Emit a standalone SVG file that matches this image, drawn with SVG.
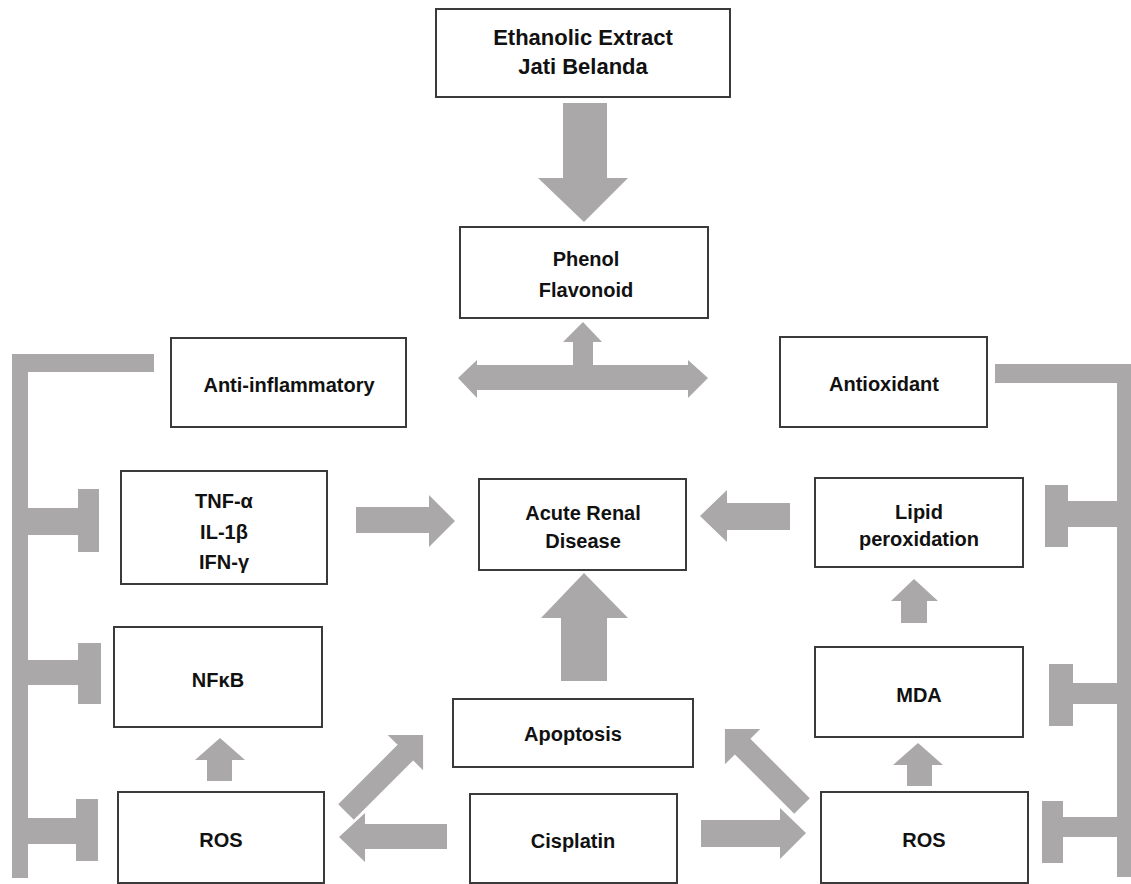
<svg xmlns="http://www.w3.org/2000/svg" width="1131" height="884" viewBox="0 0 1131 884">
<style>
.box{fill:#fff;stroke:#3a3a3a;stroke-width:2}
.arr{fill:#aaa8a8;stroke:none}
.t{font-family:"Liberation Sans",Arial,sans-serif;font-weight:bold;font-size:20px;fill:#111;text-anchor:middle}
.big{font-size:22px}
</style>
<rect width="1131" height="884" fill="#fff"/>
<g id="connectors">
  <!-- Extract -> Phenol -->
  <polygon class="arr" points="563,103 607,103 607,178 628,178 584,222 538,178 563,178"/>
  <!-- double horizontal arrow with up branch -->
  <polygon class="arr" points="458,378 477,360 477,365 573,365 573,342 563,342 583,322 602,342 593,342 593,365 688,365 688,360 708,378 688,398 688,390 477,390 477,398"/>
  <!-- TNF -> ARD -->
  <polygon class="arr" points="356,507 429,507 429,495 455,521 429,547 429,533 356,533"/>
  <!-- Lipid -> ARD -->
  <polygon class="arr" points="790,503 727,503 727,490 700,516 727,542 727,530 790,530"/>
  <!-- Apoptosis -> ARD -->
  <polygon class="arr" points="561,681 561,618 541,618 584,573 628,618 607,618 607,681"/>
  <!-- ROS L -> NFkB -->
  <polygon class="arr" points="207,781 207,760 195,760 220,738 245,760 232,760 232,781"/>
  <!-- Cisplatin -> ROS L -->
  <polygon class="arr" points="447,824 365,824 365,813 339,837 365,862 365,849 447,849"/>
  <!-- Cisplatin -> ROS R -->
  <polygon class="arr" points="701,820 780,820 780,808 806,833 780,859 780,847 701,847"/>
  <!-- MDA -> Lipid -->
  <polygon class="arr" points="901,623 901,601 891,601 914,579 938,601 927,601 927,623"/>
  <!-- ROS R -> MDA -->
  <polygon class="arr" points="907,786 907,765 893,765 918,743 943,765 932,765 932,786"/>
  <!-- ROS L -> Apoptosis (diagonal) -->
  <g transform="translate(346,812) rotate(-45)">
    <polygon class="arr" points="0,-11 84,-11 84,-25 109,0 84,25 84,11 0,11"/>
  </g>
  <!-- ROS R -> Apoptosis (diagonal) -->
  <g transform="translate(802,806) rotate(-135)">
    <polygon class="arr" points="0,-11 84,-11 84,-25 109,0 84,25 84,11 0,11"/>
  </g>
  <!-- Left inhibition bracket (anti-inflammatory) -->
  <polygon class="arr" points="12,354 154,354 154,372 28,372 28,878 12,878"/>
  <polygon class="arr" points="28,508 78,508 78,489 99,489 99,552 78,552 78,535 28,535"/>
  <polygon class="arr" points="28,660 78,660 78,643 101,643 101,704 78,704 78,685 28,685"/>
  <polygon class="arr" points="28,818 76,818 76,799 98,799 98,861 76,861 76,844 28,844"/>
  <!-- Right inhibition bracket (antioxidant) -->
  <polygon class="arr" points="995,364 1133,364 1133,877 1117,877 1117,383 995,383"/>
  <polygon class="arr" points="1118,501 1068,501 1068,485 1045,485 1045,547 1068,547 1068,527 1118,527"/>
  <polygon class="arr" points="1118,683 1073,683 1073,664 1049,664 1049,726 1073,726 1073,704 1118,704"/>
  <polygon class="arr" points="1118,817 1063,817 1063,801 1042,801 1042,863 1063,863 1063,837 1118,837"/>
</g>
<g id="extract">
  <rect class="box" x="436" y="9" width="294" height="88"/>
  <text class="t big" x="583" y="45">Ethanolic Extract</text>
  <text class="t big" x="583" y="74">Jati Belanda</text>
</g>
<g id="phenol">
  <rect class="box" x="460" y="227" width="248" height="91"/>
  <text class="t" x="586" y="266">Phenol</text>
  <text class="t" x="586" y="297">Flavonoid</text>
</g>
<g id="antiinflammatory">
  <rect class="box" x="171" y="338" width="235" height="89"/>
  <text class="t" x="289" y="392">Anti-inflammatory</text>
</g>
<g id="antioxidant">
  <rect class="box" x="780" y="337" width="207" height="90"/>
  <text class="t" x="884" y="391">Antioxidant</text>
</g>
<g id="cytokines">
  <rect class="box" x="121" y="471" width="206" height="113"/>
  <text class="t" x="224" y="508">TNF-α</text>
  <text class="t" x="224" y="539">IL-1β</text>
  <text class="t" x="224" y="569">IFN-γ</text>
</g>
<g id="ard">
  <rect class="box" x="479" y="479" width="207" height="91"/>
  <text class="t" x="583" y="520">Acute Renal</text>
  <text class="t" x="583" y="548">Disease</text>
</g>
<g id="lipid">
  <rect class="box" x="815" y="478" width="208" height="89"/>
  <text class="t" x="919" y="519">Lipid</text>
  <text class="t" x="919" y="546">peroxidation</text>
</g>
<g id="nfkb">
  <rect class="box" x="114" y="627" width="208" height="100"/>
  <text class="t" x="218" y="687">NFκB</text>
</g>
<g id="mda">
  <rect class="box" x="815" y="647" width="208" height="90"/>
  <text class="t" x="919" y="702">MDA</text>
</g>
<g id="apoptosis">
  <rect class="box" x="453" y="699" width="240" height="68"/>
  <text class="t" x="573" y="741">Apoptosis</text>
</g>
<g id="ros-left">
  <rect class="box" x="118" y="792" width="206" height="91"/>
  <text class="t" x="221" y="847">ROS</text>
</g>
<g id="cisplatin">
  <rect class="box" x="470" y="794" width="207" height="89"/>
  <text class="t" x="573" y="848">Cisplatin</text>
</g>
<g id="ros-right">
  <rect class="box" x="821" y="792" width="207" height="91"/>
  <text class="t" x="924" y="847">ROS</text>
</g>
</svg>
